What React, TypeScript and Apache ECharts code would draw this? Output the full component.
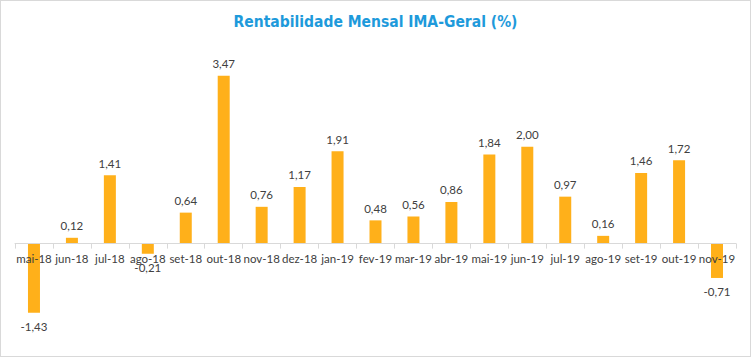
import React, { useEffect, useRef } from "react";
import * as echarts from "echarts";

const categories = [
  "mai-18", "jun-18", "jul-18", "ago-18", "set-18", "out-18", "nov-18", "dez-18",
  "jan-19", "fev-19", "mar-19", "abr-19", "mai-19", "jun-19", "jul-19", "ago-19",
  "set-19", "out-19", "nov-19",
];
const values = [
  -1.43, 0.12, 1.41, -0.21, 0.64, 3.47, 0.76, 1.17, 1.91, 0.48, 0.56, 0.86, 1.84,
  2.0, 0.97, 0.16, 1.46, 1.72, -0.71,
];
const titleText = "Rentabilidade Mensal IMA-Geral (%)";

export default function App() {
  const ref = useRef<HTMLDivElement>(null);
  useEffect(() => {
    if (!ref.current) return;
    const chart = echarts.init(ref.current, undefined, { renderer: "svg" });
    const font = "Lato, sans-serif";
    chart.setOption({
      animation: false,
      backgroundColor: "#ffffff",
      title: {
        text: titleText,
        left: "center",
        top: 8,
        textStyle: {
          color: "#1E9ADB",
          fontSize: 15.5,
          fontWeight: "bold",
          fontFamily: "DejaVu Sans Condensed, Lato, sans-serif",
        },
      },
      // grid bottom sits on the zero line; negative bars extend below it
      grid: { left: 14, right: 14, top: 49, height: 193.6, outerBoundsMode: "none", containLabel: false },
      xAxis: {
        type: "category",
        data: categories,
        position: "bottom",
        z: 10,
        axisLine: { onZero: false, lineStyle: { color: "#D9D9D9", width: 1 } },
        axisTick: { show: true, length: 5, alignWithLabel: false, lineStyle: { color: "#D9D9D9" } },
        axisLabel: { color: "#404040", fontSize: 11.5, fontFamily: font, margin: 9, interval: 0 },
      },
      yAxis: {
        type: "value",
        min: 0,
        max: 4,
        show: false,
        splitLine: { show: false },
      },
      series: [
        {
          type: "bar",
          barWidth: 12,
          clip: false,
          z: 2,
          itemStyle: { color: "#FFB01A" },
          data: values.map((v) => ({
            value: v,
            label: {
              show: true,
              position: v >= 0 ? "top" : "bottom",
              distance: v >= 0 ? 6 : 8,
              formatter: () => v.toFixed(2).replace(".", ","),
              color: "#404040",
              fontSize: 11.5,
              fontFamily: font,
            },
          })),
        },
      ],
    });
    return () => chart.dispose();
  }, []);
  return (
    <div
      ref={ref}
      style={{
        position: "fixed",
        left: 0,
        top: 0,
        width: 751,
        height: 357,
        boxSizing: "border-box",
        border: "1px solid #D9D9D9",
      }}
    />
  );
}
